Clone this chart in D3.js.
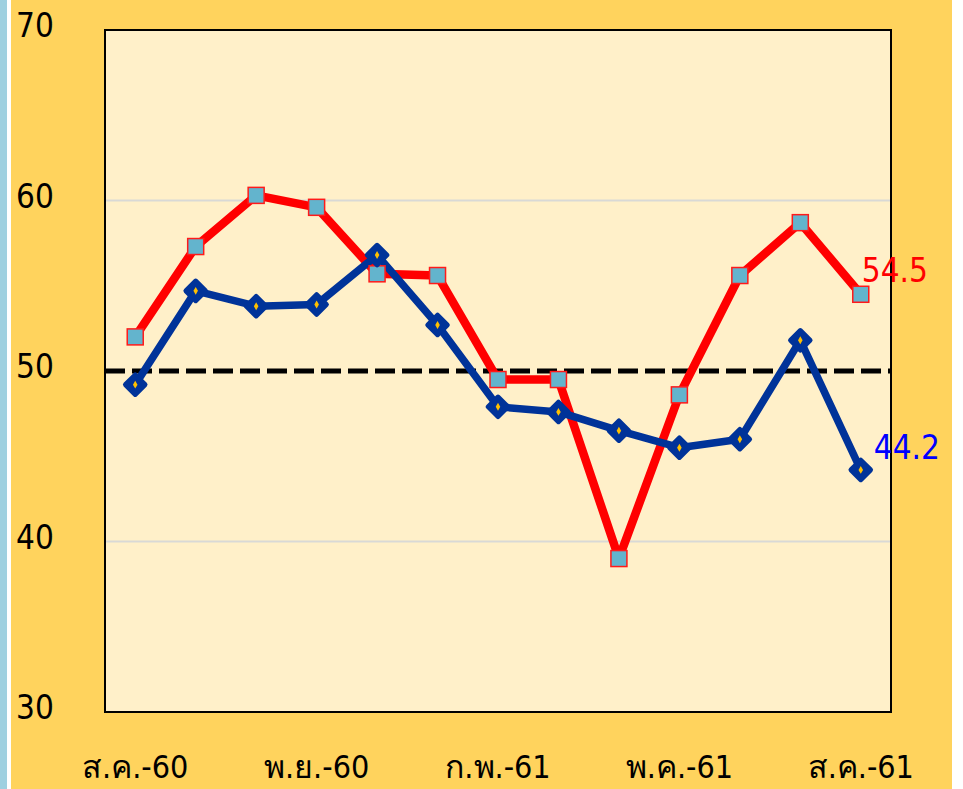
<!DOCTYPE html>
<html>
<head>
<meta charset="utf-8">
<script src="https://cdn.jsdelivr.net/npm/d3@7"></script>
<style>
  body { margin: 0; background: #fff; }
  svg text { font-family: "DejaVu Sans Condensed", "DejaVu Sans", sans-serif; }
</style>
</head>
<body>
<div id="chart"></div>
<script>
// months (Thai abbreviations), shown every 3rd
var months = ["ส.ค.-60", "ก.ย.-60", "ต.ค.-60", "พ.ย.-60", "ธ.ค.-60", "ม.ค.-61",
              "ก.พ.-61", "มี.ค.-61", "เม.ย.-61", "พ.ค.-61", "มิ.ย.-61", "ก.ค.-61", "ส.ค.-61"];
var redValues  = [52.0, 57.3, 60.3, 59.6, 55.7, 55.6, 49.5, 49.5, 39.0, 48.6, 55.6, 58.7, 54.5];
var blueValues = [49.2, 54.7, 53.8, 53.9, 56.8, 52.7, 47.9, 47.6, 46.5, 45.5, 46.0, 51.8, 44.2];
var yTicks = [30, 40, 50, 60, 70];
var gridTicks = [40, 60];
var threshold = 50;

var svg_w = 963, svg_h = 789;
var plot = {left: 105, top: 30, right: 891, bottom: 712};

var svg = d3.select("#chart")
      .append("svg")
      .attr("width", svg_w)
      .attr("height", svg_h);

// background strips
svg.append("rect").attr("x", 0).attr("y", 0).attr("width", svg_w).attr("height", svg_h).style("fill", "#ffffff");
svg.append("rect").attr("x", 0).attr("y", 0).attr("width", 7).attr("height", svg_h).style("fill", "#9ed0e0");
svg.append("rect").attr("x", 11).attr("y", 0).attr("width", 941).attr("height", svg_h).style("fill", "#ffd35d");

var xScale = d3.scaleBand()
      .domain(months)
      .range([plot.left, plot.right]);

var xPos = function(d) { return xScale(d) + xScale.bandwidth() / 2; };

var yScale = d3.scaleLinear()
      .domain([30, 70])
      .range([plot.bottom, plot.top]);

// plot area
svg.append("rect")
  .attr("x", plot.left).attr("y", plot.top)
  .attr("width", plot.right - plot.left).attr("height", plot.bottom - plot.top)
  .style("fill", "#fff0c9");

// gridlines
svg.selectAll(".grid")
  .data(gridTicks)
  .enter()
  .append("line")
  .attr("x1", plot.left)
  .attr("x2", plot.right)
  .attr("y1", function(d) { return yScale(d); })
  .attr("y2", function(d) { return yScale(d); })
  .style("stroke", "#d9d9d6")
  .style("stroke-width", 2);

// 50 threshold
svg.append("line")
  .attr("x1", plot.left)
  .attr("x2", plot.right)
  .attr("y1", yScale(threshold))
  .attr("y2", yScale(threshold))
  .style("stroke", "#000")
  .style("stroke-width", 5)
  .style("stroke-dasharray", "20, 7");

svg.append("rect")
  .attr("x", plot.left).attr("y", plot.top)
  .attr("width", plot.right - plot.left).attr("height", plot.bottom - plot.top)
  .style("fill", "none")
  .style("stroke", "#000")
  .style("stroke-width", 2);

// y axis labels
var yAxis = d3.axisLeft(yScale)
      .tickValues(yTicks)
      .tickSize(0)
      .tickPadding(0);

var yg = svg.append("g")
  .attr("transform", "translate(16,0)")
  .call(yAxis);
yg.select(".domain").remove();
yg.selectAll("text")
  .attr("text-anchor", "start")
  .attr("dy", "0.2em")
  .style("font-size", "33px")
  .style("fill", "#000");

// x axis labels
var xAxis = d3.axisBottom(xScale)
      .tickValues(months.filter(function(d, i) { return i % 3 === 0; }))
      .tickSize(0)
      .tickPadding(0);

var xg = svg.append("g")
  .attr("transform", "translate(0,755)")
  .call(xAxis);
xg.select(".domain").remove();
xg.selectAll("text")
  .style("font-size", "32px")
  .style("fill", "#000");

var line = function(vals) {
  return d3.line()
    .x(function(d, i) { return xPos(months[i]); })
    .y(function(d) { return yScale(d); })(vals);
};

// red series
svg.append("path")
  .attr("d", line(redValues))
  .style("fill", "none")
  .style("stroke", "#ff0000")
  .style("stroke-width", 8.5)
  .style("stroke-linejoin", "round");

// blue series
svg.append("path")
  .attr("d", line(blueValues))
  .style("fill", "none")
  .style("stroke", "#003399")
  .style("stroke-width", 7.5)
  .style("stroke-linejoin", "round");

svg.selectAll(".sq")
  .data(redValues)
  .enter()
  .append("rect")
  .attr("x", function(d, i) { return xPos(months[i]) - 8; })
  .attr("y", function(d) { return yScale(d) - 8; })
  .attr("width", 16)
  .attr("height", 16)
  .style("fill", "#63b4cd")
  .style("stroke", "#ff1a1a")
  .style("stroke-width", 1.5);

svg.selectAll(".dia")
  .data(blueValues)
  .enter()
  .append("path")
  .attr("d", d3.symbol().type(d3.symbolSquare).size(190))
  .attr("transform", function(d, i) { return "translate(" + xPos(months[i]) + "," + yScale(d) + ") rotate(45)"; })
  .style("fill", "#003399")
  .style("stroke", "#003399")
  .style("stroke-width", 5)
  .style("stroke-linejoin", "round");

svg.selectAll(".dot")
  .data(blueValues)
  .enter()
  .append("path")
  .attr("d", d3.symbol().type(d3.symbolDiamond).size(18))
  .attr("transform", function(d, i) { return "translate(" + xPos(months[i]) + "," + yScale(d) + ")"; })
  .style("fill", "#ffc000");

// end labels
var last = months.length - 1;
svg.append("text")
  .attr("x", xPos(months[last]) + 1)
  .attr("y", yScale(redValues[last]) - 12)
  .text(redValues[last].toFixed(1))
  .style("font-size", "33px")
  .style("fill", "#ff0000");

svg.append("text")
  .attr("x", xPos(months[last]) + 13)
  .attr("y", yScale(blueValues[last]) - 11)
  .text(blueValues[last].toFixed(1))
  .style("font-size", "33px")
  .style("fill", "#0000ff");
</script>
</body>
</html>
